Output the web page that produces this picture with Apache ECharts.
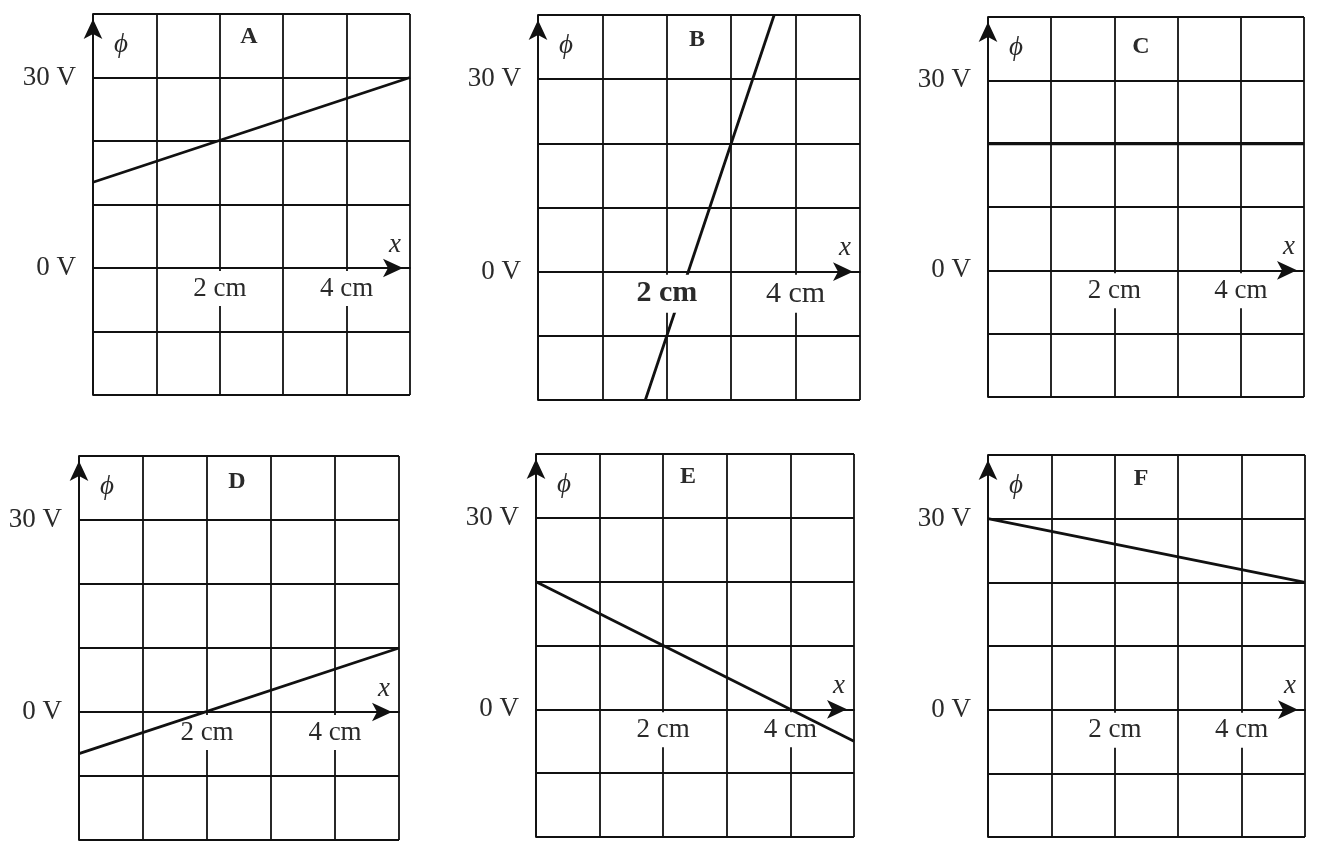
<!DOCTYPE html>
<html>
<head>
<meta charset="utf-8">
<script src="https://cdn.jsdelivr.net/npm/echarts@6/dist/echarts.min.js"></script>
<style>
  html, body { margin: 0; padding: 0; background: #fff; }
  #chart { width: 1322px; height: 844px; }
</style>
</head>
<body>
<div id="chart"></div>
<script>
// ---- data ----
const panelNames = ['A', 'B', 'C', 'D', 'E', 'F'];
const xTickValues = [2, 4];
const xTickLabels = ['2 cm', '4 cm'];
const yTickValues = [0, 30];
const yTickLabels = ['0 V', '30 V'];
const xRange = [0, 5];
const yRange = [-20, 40];
// potential lines phi(x): [x (cm), phi (V)]
const lineA = [[0, 13.5], [5, 30]];
const lineB = [[1.667, -20], [3.667, 40]];
const lineC = [[0, 20], [5, 20]];
const lineD = [[0, -6.5], [5, 10]];
const lineE = [[0, 20], [5, -5]];
const lineF = [[0, 30], [5, 20]];
const lines = [lineA, lineB, lineC, lineD, lineE, lineF];

// ---- layout / style ----
const layouts = [
  { left: 93,  top: 14,  width: 317, height: 381 },
  { left: 538, top: 15,  width: 322, height: 385 },
  { left: 988, top: 17,  width: 316, height: 380 },
  { left: 79,  top: 456, width: 320, height: 384 },
  { left: 536, top: 454, width: 318, height: 383 },
  { left: 988, top: 455, width: 317, height: 382 }
];
const letterPos = [[249, 37], [697, 40], [1141, 47], [237, 482], [688, 477], [1141, 479]];
const lineWidths = [2.8, 2.8, 3.4, 2.8, 2.8, 2.8];
const labelOnTop = [false, true, false, false, false, false];
const tickFontSize = [27, 30, 27, 27, 27, 27];
const tickBold = [[false, false], [true, false], [false, false], [false, false], [false, false], [false, false]];

const SERIF = '"Liberation Serif", "DejaVu Serif", serif';
const INK = '#111';
const TXT = '#2a2a2a';
const GRIDW = 1.8;

const grids = [], xAxes = [], yAxes = [], series = [], graphics = [];

layouts.forEach((L, i) => {
  grids.push(Object.assign({ containLabel: false, outerBoundsMode: 'none', show: false }, L));

  xAxes.push({
    gridIndex: i, type: 'value', min: xRange[0], max: xRange[1], interval: 1,
    axisLine: { show: true, onZero: true, lineStyle: { color: INK, width: GRIDW },
      symbol: ['none', 'arrow'], symbolSize: [14, 20], symbolOffset: [0, -7] },
    axisTick: { show: false },
    axisLabel: { show: false },
    splitLine: { show: true, lineStyle: { color: INK, width: GRIDW } },
    name: 'x', nameLocation: 'end', nameGap: -15, nameMoveOverlap: false,
    nameTextStyle: { fontFamily: SERIF, fontStyle: 'italic', fontSize: 27, color: TXT,
      align: 'center', verticalAlign: 'bottom', padding: [0, 0, 10, 0] }
  });

  yAxes.push({
    gridIndex: i, type: 'value', min: yRange[0], max: yRange[1], interval: 10,
    axisLine: { show: true, onZero: false, lineStyle: { color: INK, width: GRIDW },
      symbol: ['none', 'arrow'], symbolSize: [14, 20], symbolOffset: [0, -5] },
    axisTick: { show: false },
    axisLabel: {
      show: true, margin: 17, fontFamily: SERIF, fontSize: 27, color: TXT,
      showMinLabel: true, showMaxLabel: true, hideOverlap: false,
      formatter: function (v) {
        const k = yTickValues.indexOf(v);
        return k >= 0 ? yTickLabels[k] : '';
      }
    },
    splitLine: { show: true, lineStyle: { color: INK, width: GRIDW } },
    name: 'ϕ', nameLocation: 'end', nameGap: -31, nameMoveOverlap: false,
    nameTextStyle: { fontFamily: SERIF, fontStyle: 'italic', fontSize: 27, color: TXT,
      align: 'left', verticalAlign: 'middle', padding: [0, 0, 0, 21] }
  });

  series.push({
    type: 'line', xAxisIndex: i, yAxisIndex: i, data: lines[i],
    showSymbol: false, symbol: 'none', clip: true, silent: true,
    lineStyle: { color: INK, width: lineWidths[i] }, z: 3, animation: false
  });

  series.push({
    type: 'custom', xAxisIndex: i, yAxisIndex: i, silent: true, animation: false,
    z: labelOnTop[i] ? 5 : 2, clip: false,
    data: xTickValues.map((v, k) => [v, 0, k]),
    renderItem: function (params, api) {
      const p = api.coord([api.value(0), api.value(1)]);
      const k = api.value(2);
      return {
        type: 'text', x: p[0], y: p[1] + 3,
        style: {
          text: xTickLabels[k], fontFamily: SERIF, fontSize: tickFontSize[i],
          fontWeight: tickBold[i][k] ? 'bold' : 'normal',
          fill: TXT, align: 'center', verticalAlign: 'top',
          backgroundColor: '#fff', padding: [4, 3, 4, 3]
        }
      };
    }
  });

  graphics.push({
    type: 'text', x: letterPos[i][0], y: letterPos[i][1], z: 10,
    style: { text: panelNames[i], fontFamily: SERIF, fontWeight: 'bold', fontSize: 24,
      fill: TXT, align: 'center', verticalAlign: 'middle',
      textAlign: 'center', textVerticalAlign: 'middle' }
  });
});

const chart = echarts.init(document.getElementById('chart'), null, { renderer: 'canvas' });
chart.setOption({
  backgroundColor: '#fff',
  animation: false,
  grid: grids,
  xAxis: xAxes,
  yAxis: yAxes,
  series: series,
  graphic: graphics
});
</script>
</body>
</html>
